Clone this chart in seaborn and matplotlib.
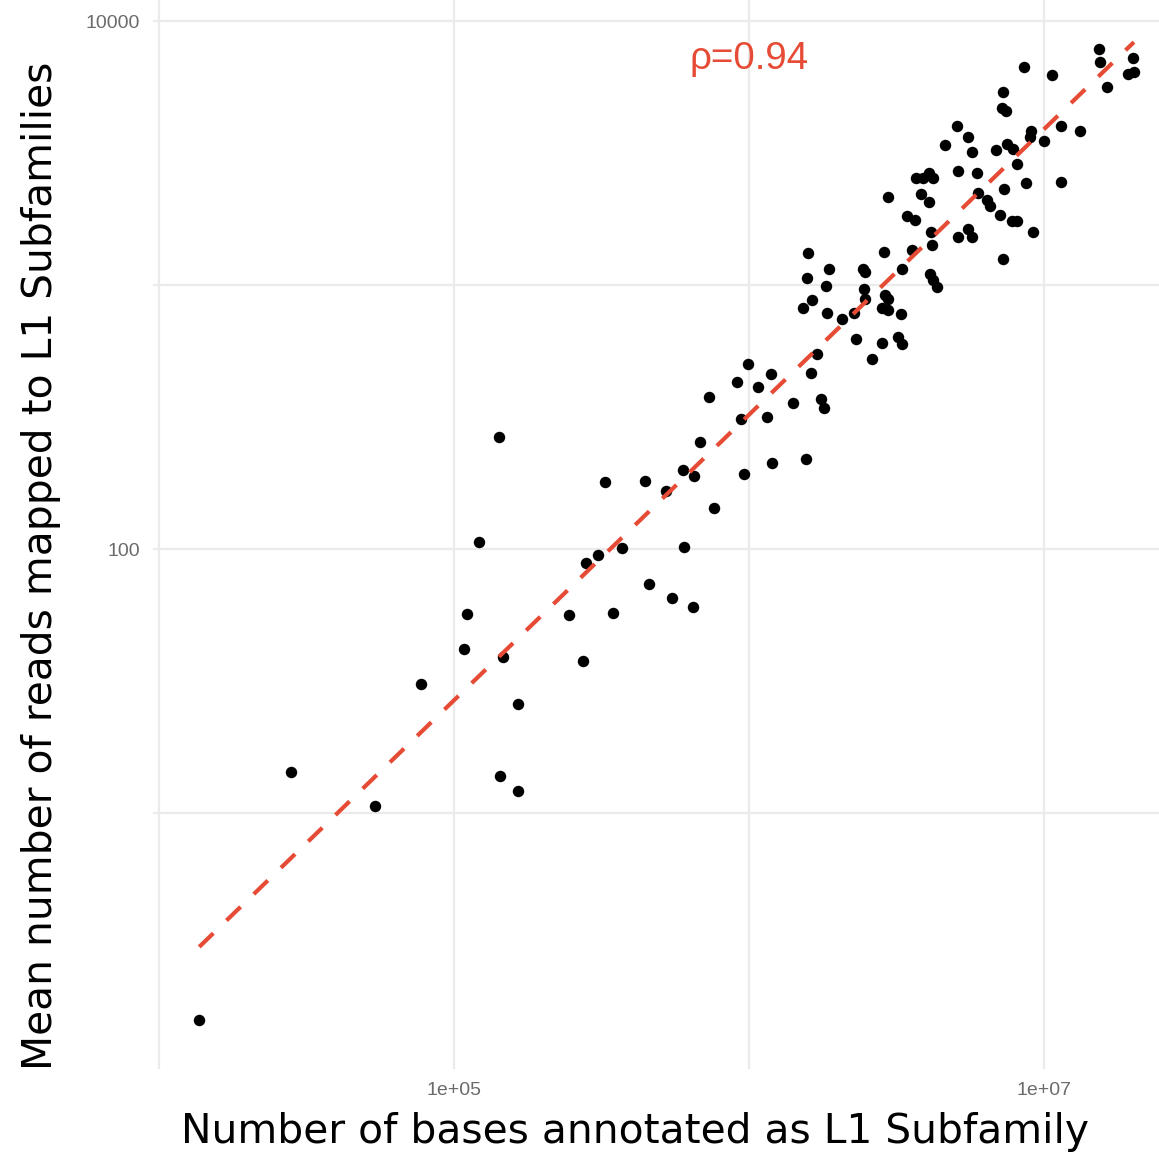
import numpy as np
import pandas as pd
import matplotlib
matplotlib.use("Agg")
import matplotlib.pyplot as plt
import seaborn as sns
from matplotlib.ticker import NullFormatter

# log10 of the number of bases annotated as each L1 subfamily
log10_bases = [
    4.136, 4.447, 4.732, 4.888, 5.034, 5.044, 5.085, 5.153, 5.156, 5.166,
    5.217, 5.217, 5.390, 5.437, 5.447, 5.488, 5.539, 5.569, 5.661, 5.739,
    5.810, 5.780, 5.512, 5.647, 5.719, 5.776, 5.814, 5.834, 5.881, 5.983,
    5.864, 5.959, 5.997, 6.031, 5.973, 6.061, 6.075, 6.078, 6.193, 6.149,
    6.210, 6.231, 6.244, 6.254, 6.200, 6.197, 6.271, 6.261, 6.214, 6.183,
    6.264, 6.315, 6.356, 6.386, 6.393, 6.390, 6.393, 6.458, 6.519, 6.461,
    6.471, 6.451, 6.471, 6.515, 6.363, 6.451, 6.417, 6.505, 6.519, 6.553,
    6.617, 6.620, 6.708, 6.742, 6.756, 6.614, 6.624, 6.637, 6.861, 6.963,
    6.471, 6.536, 6.563, 6.583, 6.610, 6.566, 6.590, 6.610, 6.624, 6.708,
    6.773, 6.776, 6.807, 6.817, 6.851, 6.892, 6.908, 6.864, 6.908, 6.939,
    7.058, 6.664, 6.705, 6.742, 6.756, 6.837, 6.875, 6.895, 6.861, 6.858,
    6.871, 6.956, 6.953, 7.000, 6.932, 7.027, 7.058, 7.122, 7.186, 7.190,
    7.214, 7.302, 7.285, 7.305,
]

# log10 of the mean number of reads mapped to each L1 subfamily
log10_reads = [
    0.217, 1.156, 1.028, 1.490, 1.622, 1.755, 2.028, 2.425, 1.141, 1.592,
    1.414, 1.084, 1.751, 1.577, 1.948, 1.978, 1.759, 2.005, 1.869, 1.816,
    1.781, 2.009, 2.255, 2.259, 2.221, 2.300, 2.278, 2.406, 2.156, 2.285,
    2.577, 2.634, 2.702, 2.615, 2.494, 2.501, 2.664, 2.327, 2.342, 2.554,
    2.668, 2.740, 2.569, 2.535, 3.122, 3.028, 3.062, 2.997, 2.944, 2.914,
    2.895, 2.872, 2.895, 3.062, 3.050, 2.986, 2.948, 3.126, 3.062, 2.963,
    2.948, 2.914, 2.906, 2.891, 2.797, 2.781, 2.721, 2.804, 2.778, 3.134,
    3.202, 3.153, 3.183, 3.213, 3.183, 3.043, 3.020, 2.994, 3.100, 3.202,
    3.334, 3.263, 3.247, 3.346, 3.316, 3.406, 3.406, 3.425, 3.406, 3.433,
    3.425, 3.350, 3.323, 3.300, 3.266, 3.244, 3.244, 3.365, 3.459, 3.388,
    3.391, 3.531, 3.603, 3.562, 3.505, 3.513, 3.535, 3.516, 3.732, 3.672,
    3.660, 3.584, 3.562, 3.547, 3.827, 3.797, 3.603, 3.584, 3.895, 3.846,
    3.751, 3.861, 3.800, 3.808,
]

x_major = [1e5, 1e7]
x_major_labels = ["1e+05", "1e+07"]
x_minor = [1e4, 1e6]
y_major = [100, 10000]
y_major_labels = ["100", "10000"]
y_minor = [10, 1000]

rho_text = "ρ=0.94"
rho_pos = (1e6, 10 ** 3.818)

x_title = "Number of bases annotated as L1 Subfamily"
y_title = "Mean number of reads mapped to L1 Subfamilies"

RED = "#E64B35"
GRID = "#EBEBEB"

df = pd.DataFrame({
    "bases": 10 ** np.array(log10_bases),
    "reads": 10 ** np.array(log10_reads),
})

# least-squares fit in log-log space
lx = np.log10(df["bases"].to_numpy())
ly = np.log10(df["reads"].to_numpy())
slope, intercept = np.polyfit(lx, ly, 1)
fit_lx = np.array([lx.min(), lx.max()])
fit = pd.DataFrame({"bases": 10 ** fit_lx, "reads": 10 ** (intercept + slope * fit_lx)})

sns.set_theme(style="white")
plt.rcParams["font.family"] = ["DejaVu Sans"]

W, H = 1159, 1154
fig = plt.figure(figsize=(W / 100, H / 100), dpi=100)
ax = fig.add_axes([0.1316, 0.0740, 0.8871, 0.9257])

sns.scatterplot(data=df, x="bases", y="reads", ax=ax, color="black",
                s=68, linewidth=0, zorder=3)
sns.lineplot(data=fit, x="bases", y="reads", ax=ax, color=RED,
             linewidth=3.0, zorder=4)
for ln in ax.get_lines():
    ln.set_dashes((4.7, 4.4))
    ln.set_dash_capstyle("butt")

ax.set_xscale("log")
ax.set_yscale("log")


def expanded(vals, frac=0.05):
    lo, hi = np.min(vals), np.max(vals)
    pad = (hi - lo) * frac
    return 10 ** (lo - pad), 10 ** (hi + pad)


ax.set_xlim(*expanded(lx))
ax.set_ylim(*expanded(ly))

ax.set_xticks(x_major)
ax.set_xticklabels(x_major_labels)
ax.set_xticks(x_minor, minor=True)
ax.set_yticks(y_major)
ax.set_yticklabels(y_major_labels)
ax.set_yticks(y_minor, minor=True)
ax.xaxis.set_minor_formatter(NullFormatter())
ax.yaxis.set_minor_formatter(NullFormatter())

ax.grid(which="both", color=GRID, linewidth=1.6)
ax.set_axisbelow(True)
for sp in ax.spines.values():
    sp.set_visible(False)

ax.tick_params(which="both", length=0)
ax.tick_params(axis="x", pad=9.5)
ax.tick_params(axis="y", pad=9)
for lab in ax.get_xticklabels() + ax.get_yticklabels():
    lab.set_fontfamily(["Liberation Sans", "DejaVu Sans"])
    lab.set_fontsize(14)
    lab.set_color("#6B6B6B")

ax.set_xlabel(x_title, fontsize=29.3, color="black", va="center")
ax.set_ylabel(y_title, fontsize=29.3, color="black", va="center")
ax.xaxis.set_label_coords(0.4693, -0.0594)
ax.yaxis.set_label_coords(-0.1085, 0.471)

ax.text(rho_pos[0], rho_pos[1], rho_text, color=RED, fontsize=27.7,
        ha="center", va="baseline", family=["Liberation Sans", "DejaVu Sans"])

fig.savefig("out.png", dpi=100, facecolor="white")
